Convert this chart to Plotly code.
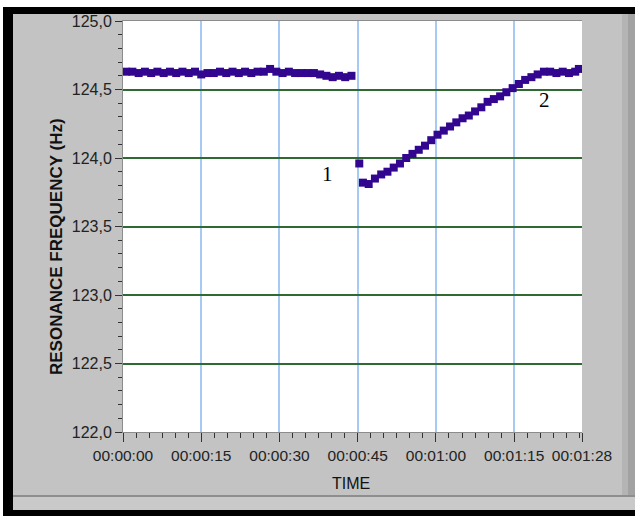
import plotly.graph_objects as go

# Resonance frequency record: steady level, sudden drop, then recovery
time_before = [0.6, 1.8, 3.0, 4.2, 5.4, 6.6, 7.8, 9.0, 10.2, 11.4, 12.6, 13.8,
               15.0, 16.2, 17.4, 18.6, 19.8, 21.0, 22.2, 23.4, 24.6, 25.8, 27.0,
               28.2, 29.4, 30.6, 31.8, 33.0, 34.2, 35.4, 36.6, 37.8, 39.0, 40.2,
               41.4, 42.6, 43.8]
freq_before = [124.63, 124.63, 124.62, 124.63, 124.62, 124.63, 124.62, 124.63,
               124.62, 124.63, 124.62, 124.63, 124.61, 124.62, 124.62, 124.63,
               124.62, 124.63, 124.62, 124.63, 124.62, 124.63, 124.63, 124.65,
               124.63, 124.62, 124.63, 124.62, 124.62, 124.62, 124.62, 124.61,
               124.60, 124.59, 124.60, 124.59, 124.60]

time_after = [45.3, 46.0, 47.1, 48.3, 49.5, 50.7, 51.9, 53.1, 54.3, 55.5, 56.7,
              57.9, 59.1, 60.3, 61.5, 62.7, 63.9, 65.1, 66.3, 67.5, 68.7, 69.9,
              71.1, 72.3, 73.5, 74.7, 75.9, 77.1, 78.3, 79.5, 80.7, 81.9, 83.1,
              84.3, 85.5, 86.7, 87.4]
freq_after = [123.96, 123.82, 123.81, 123.85, 123.88, 123.90, 123.93, 123.96,
              124.00, 124.03, 124.06, 124.09, 124.13, 124.17, 124.20, 124.23,
              124.26, 124.29, 124.31, 124.34, 124.37, 124.41, 124.43, 124.45,
              124.48, 124.51, 124.54, 124.57, 124.59, 124.61, 124.63, 124.63,
              124.62, 124.63, 124.62, 124.63, 124.65]

x_tick_vals = [0, 15, 30, 45, 60, 75, 88]
x_tick_text = ["00:00:00", "00:00:15", "00:00:30", "00:00:45",
               "00:01:00", "00:01:15", "00:01:28"]
y_tick_vals = [122.0, 122.5, 123.0, 123.5, 124.0, 124.5, 125.0]
y_tick_text = ["122,0", "122,5", "123,0", "123,5", "124,0", "124,5", "125,0"]

point_labels = ["1", "2"]
point_label_x = [39.2, 80.8]
point_label_y = [123.88, 124.42]

W, H = 635, 516
ML, MR, MT, MB = 123, 53, 21, 84
PW, PH = W - ML - MR, H - MT - MB

MARKER = "#33068f"
FONT = "Liberation Sans, Arial, sans-serif"


def px(x):
    return (x - ML) / PW


def py(y):
    return (H - MB - y) / PH


def panel(x0, y0, x1, y1, color):
    return dict(type="rect", xref="paper", yref="paper", layer="below",
                x0=px(x0), x1=px(x1), y0=py(y1), y1=py(y0),
                fillcolor=color, line=dict(width=0))


fig = go.Figure()
for t, f in ((time_before, freq_before), (time_after, freq_after)):
    fig.add_trace(go.Scatter(
        x=t, y=f, mode="markers",
        marker=dict(symbol="square", size=8, color=MARKER,
                    line=dict(width=0)),
        showlegend=False, hoverinfo="x+y"))

shapes = [
    panel(3, 7, 635, 516, "#000000"),
    panel(13, 14, 635, 497, "#c3c3c3"),
    panel(622, 14, 628, 497, "#b4b4b4"),
    panel(628, 14, 635, 497, "#a2a2a2"),
    panel(13, 495, 635, 497, "#8e8e8e"),
    panel(13, 497, 635, 510, "#c9c9c9"),
    panel(ML, MT, ML + PW, MT + PH, "#ffffff"),
]

annotations = [
    dict(text="RESONANCE FREQUENCY (Hz)", xref="paper", yref="paper",
         x=px(56), y=py(247), textangle=-90, showarrow=False,
         xanchor="center", yanchor="middle",
         font=dict(family=FONT, size=17, color="#111111", weight="bold")),
    dict(text="TIME", xref="paper", yref="paper", x=px(351), y=py(483),
         showarrow=False, xanchor="center", yanchor="middle",
         font=dict(family=FONT, size=16, color="#111111")),
]
for txt, lx, ly in zip(point_labels, point_label_x, point_label_y):
    annotations.append(dict(
        text=txt, x=lx, y=ly, xref="x", yref="y", showarrow=False,
        xanchor="center", yanchor="middle",
        font=dict(family="Liberation Serif, Times New Roman, serif",
                  size=21, color="#000000")))

fig.update_layout(
    width=W, height=H,
    margin=dict(l=ML, r=MR, t=MT, b=MB, pad=0),
    paper_bgcolor="#ffffff", plot_bgcolor="#ffffff",
    shapes=shapes, annotations=annotations,
    xaxis=dict(
        range=[0, 88], tickmode="array", tickvals=x_tick_vals,
        ticktext=x_tick_text, tickangle=0, ticks="outside", ticklen=9,
        tickwidth=1, tickcolor="#333333", showgrid=True,
        gridcolor="#a6caf4", gridwidth=1.5, zeroline=False, showline=True,
        linecolor="#8c8c8c", linewidth=1, mirror=True,
        tickfont=dict(family=FONT, size=15.5, color="#222222"),
        minor=dict(tickmode="linear", tick0=0, dtick=2.5, ticks="outside",
                   ticklen=5, tickcolor="#333333", showgrid=False),
    ),
    yaxis=dict(
        range=[122, 125], tickmode="array", tickvals=y_tick_vals,
        ticktext=y_tick_text, ticks="outside", ticklen=7, tickwidth=1,
        tickcolor="#333333", showgrid=True, gridcolor="#2f6a32",
        gridwidth=1.5, zeroline=False, showline=True, linecolor="#8c8c8c",
        linewidth=1,
        tickfont=dict(family=FONT, size=16, color="#222222"),
        minor=dict(tickmode="linear", tick0=122, dtick=0.1, ticks="outside",
                   ticklen=4, tickcolor="#333333", showgrid=False),
    ),
)

fig.write_html("out.html")
